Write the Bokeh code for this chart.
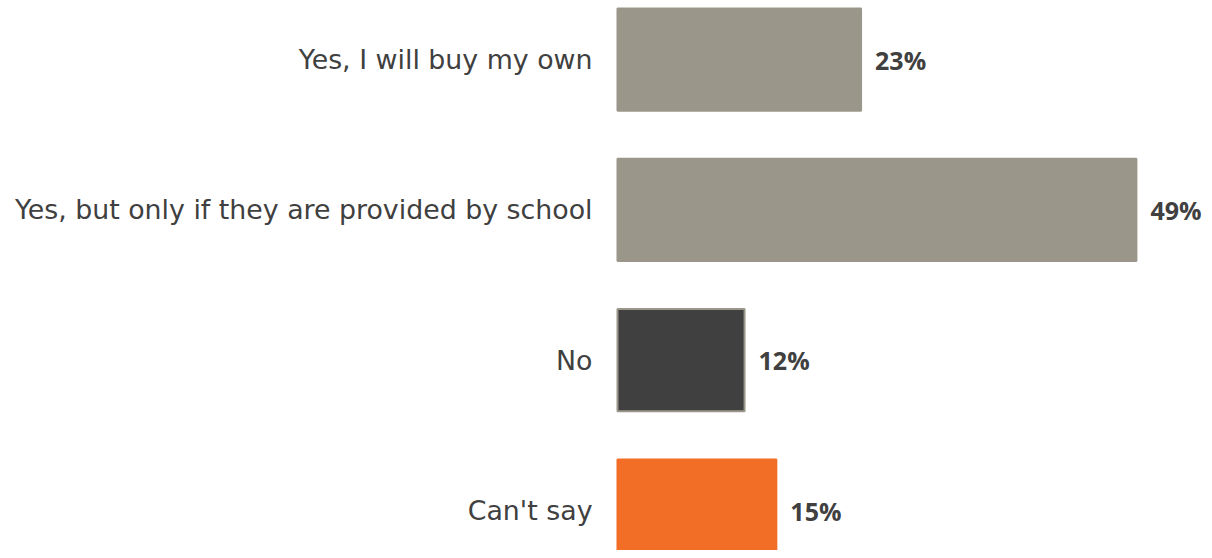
from bokeh.plotting import figure
from bokeh.models import ColumnDataSource, Range1d
from bokeh.embed import file_html
from bokeh.resources import INLINE
from bokeh.core.properties import value

categories = ["Yes, I will buy my own", "Yes, but only if they are provided by school", "No", "Can't say"]
values = [23, 49, 12, 15]
colors = ["#9A978A", "#9A978A", "#404040", "#F26E27"]
outlines = ["#9A978A", "#9A978A", "#9A978A", "#F26E27"]
value_labels = ["23%", "49%", "12%", "15%"]

ypos = [len(categories) - 1 - i for i in range(len(categories))]

src = ColumnDataSource(dict(
    y=ypos, v=values, c=colors, lc=outlines, cat=categories, lab=value_labels,
    zero=[0] * len(values),
))

p = figure(width=1204, height=550, output_backend="svg", toolbar_location=None,
           x_range=Range1d(-58.26, 55.43), y_range=Range1d(-0.266, 3.393),
           min_border=0, outline_line_color=None)
p.axis.visible = False
p.grid.visible = False
p.background_fill_color = "white"
p.border_fill_color = "white"

p.hbar(y="y", left=0, right="v", height=0.68, fill_color="c", line_color="lc",
       line_width=2, source=src)

p.text(x="zero", y="y", text="cat", source=src, x_offset=-25, text_align="right",
       text_baseline="middle", text_font=value("DejaVu Sans"), text_font_size="26.8px",
       text_color="#404040")

p.text(x="v", y="y", text="lab", source=src, x_offset=14, text_align="left",
       text_baseline="middle", text_font=value("Open Sans"), text_font_size="25px",
       text_font_style="bold", text_color="#404040")

open("out.html", "w").write(file_html(p, INLINE))
